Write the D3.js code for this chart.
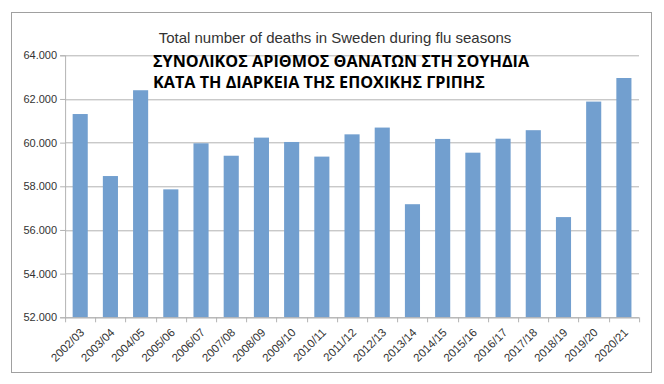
<!DOCTYPE html>
<html>
<head>
  <meta charset="utf-8">
  <script src="https://d3js.org/d3.v7.min.js"></script>
  <style>
    body { margin: 0; background: #fff; }
    text { font-family: "Liberation Sans", Arial, sans-serif; fill: #333; }
  </style>
</head>
<body>
  <svg width="664" height="384"></svg>
  <script>
    const seasons = ["2002/03", "2003/04", "2004/05", "2005/06", "2006/07", "2007/08", "2008/09",
      "2009/10", "2010/11", "2011/12", "2012/13", "2013/14", "2014/15", "2015/16", "2016/17",
      "2017/18", "2018/19", "2019/20", "2020/21"];
    const deaths = [61310, 58470, 62400, 57860, 59970, 59400, 60230, 60030, 59360, 60380, 60690,
      57180, 60170, 59540, 60180, 60570, 56590, 61880, 62960];
    const yTicks = [52000, 54000, 56000, 58000, 60000, 62000, 64000];

    const svg = d3.select("svg");
    const margin = { top: 55.3, right: 25, bottom: 66.7, left: 65.1 };
    const width = 664 - margin.left - margin.right;
    const height = 384 - margin.top - margin.bottom;

    // outer frame
    svg.append("rect")
      .attr("x", 11.5).attr("y", 12.5).attr("width", 640).attr("height", 360)
      .attr("fill", "none").attr("stroke", "#a0a0a0").attr("stroke-width", 1);

    const g = svg.append("g").attr("transform", `translate(${margin.left},${margin.top})`);

    const x = d3.scaleBand().domain(seasons).range([0, width]).paddingInner(0.5).paddingOuter(0.25);
    const y = d3.scaleLinear().domain([52000, 64000]).range([height, 0]);
    const fmt = d => d3.format(",")(d).replace(",", ".");

    // grid lines
    g.selectAll(".grid").data(yTicks).enter().append("line")
      .attr("x1", 0).attr("x2", width)
      .attr("y1", d => Math.round(y(d)) + 0.5).attr("y2", d => Math.round(y(d)) + 0.5)
      .attr("stroke", "#b3b3b3");

    // bars
    g.selectAll(".bar").data(deaths).enter().append("rect")
      .attr("x", (d, i) => x(seasons[i]))
      .attr("y", d => y(d))
      .attr("width", x.bandwidth())
      .attr("height", d => height - y(d))
      .attr("fill", "#729fcf");

    // y axis
    const yAxis = g.append("g")
      .call(d3.axisLeft(y).tickValues(yTicks).tickFormat(fmt).tickSize(5).tickPadding(3));
    yAxis.select(".domain").attr("stroke", "#b3b3b3");
    yAxis.selectAll(".tick line").attr("stroke", "#b3b3b3");
    yAxis.selectAll("text").style("font-size", "11px").attr("fill", "#333");

    // x axis: ticks at category boundaries
    const xg = g.append("g").attr("transform", `translate(0,${height})`);
    xg.append("line").attr("x1", 0).attr("x2", width).attr("y1", 0.5).attr("y2", 0.5).attr("stroke", "#b3b3b3");
    const step = x.step();
    xg.selectAll(".xt").data(d3.range(seasons.length + 1)).enter().append("line")
      .attr("x1", i => Math.round(i * step) + 0.5).attr("x2", i => Math.round(i * step) + 0.5)
      .attr("y1", 0).attr("y2", 5).attr("stroke", "#b3b3b3");
    xg.selectAll(".xl").data(seasons).enter().append("text")
      .attr("transform", d => `translate(${x(d) + x.bandwidth() / 2 + 2},${13}) rotate(-45)`)
      .attr("text-anchor", "end")
      .attr("dy", "0.35em")
      .style("font-size", "11.5px")
      .text(d => d);

    // titles
    svg.append("text")
      .attr("x", 335).attr("y", 43)
      .attr("text-anchor", "middle")
      .style("font-size", "15px")
      .attr("fill", "#333")
      .text("Total number of deaths in Sweden during flu seasons");

    const greek = ["ΣΥΝΟΛΙΚΟΣ ΑΡΙΘΜΟΣ ΘΑΝΑΤΩΝ ΣΤΗ ΣΟΥΗΔΙΑ", "ΚΑΤΑ ΤΗ ΔΙΑΡΚΕΙΑ ΤΗΣ ΕΠΟΧΙΚΗΣ ΓΡΙΠΗΣ"];
    svg.selectAll(".gr").data(greek).enter().append("text")
      .attr("x", 153).attr("y", (d, i) => 66.7 + i * 21.6)
      .style("font-family", "'Open Sans', 'Noto Sans', sans-serif")
      .style("font-weight", "bold")
      .style("font-size", "16.2px")
      .style("fill", "#000")
      .text(d => d);
  </script>
</body>
</html>
